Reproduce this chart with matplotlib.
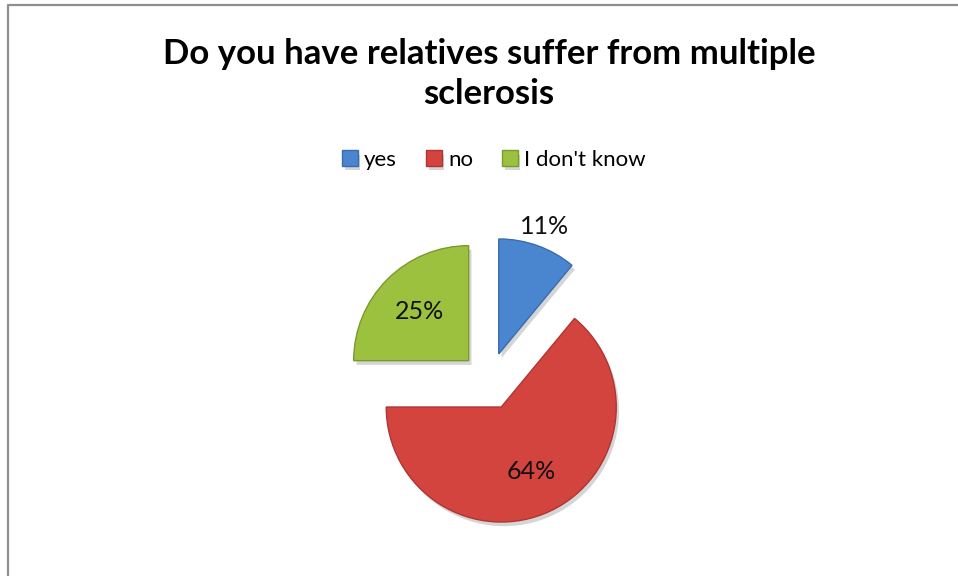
import numpy as np
import matplotlib.pyplot as plt
import matplotlib.patheffects as pe
from matplotlib.lines import Line2D

labels = ['yes', 'no', "I don't know"]
shares = [11, 64, 25]
colors = ['#4a86d0', '#d4443f', '#9cc13f']
edge_colors = ['#3a6cab', '#ad3532', '#7a9a2e']
pct_dist = [1.18, 0.62, 0.61]

W, H = 958, 576
fig = plt.figure(figsize=(W / 100, H / 100), dpi=100)

# frame line on the left and top
fig.add_artist(Line2D([8 / W, 8 / W, 1], [0, 1 - 5 / H, 1 - 5 / H],
                      transform=fig.transFigure, color='#8e8e8e', lw=1.6))

fig.text(489 / W, 1 - 74 / H, 'Do you have relatives suffer from multiple\nsclerosis',
         ha='center', va='center', fontsize=25, fontweight='bold',
         family='Lato', linespacing=1.32)

# pie axes: radius 1 = 115 px, centred at (489, 381)
r_px = 115
half = 200
ax = fig.add_axes([(489 - half) / W, (H - 381 - half) / H, 2 * half / W, 2 * half / H])
wedges, _ = ax.pie(shares, colors=colors, startangle=90, counterclock=False,
                   explode=[0.25] * 3,
                   wedgeprops=dict(linewidth=1.0))
for w, ec in zip(wedges, edge_colors):
    w.set_edgecolor(ec)
    w.set_path_effects([pe.SimplePatchShadow(offset=(2, -3), shadow_rgbFace='#888888', alpha=0.35),
                        pe.Normal()])

for w, share, d in zip(wedges, shares, pct_dist):
    mid = np.deg2rad((w.theta1 + w.theta2) / 2)
    cx, cy = w.center
    ax.text(cx + d * np.cos(mid), cy + d * np.sin(mid), f'{share}%',
            ha='center', va='center', fontsize=18, family='Lato', color='#111111')

lim = half / r_px
ax.set_xlim(-lim, lim)
ax.set_ylim(-lim, lim)
ax.set_aspect('equal')
ax.axis('off')

fig.legend(wedges, labels, loc='center', bbox_to_anchor=(494 / W, 1 - 160 / H),
           ncol=3, frameon=False, handlelength=0.7, handleheight=0.7,
           handletextpad=0.3, columnspacing=1.3, prop=dict(family='Lato', size=16))

fig.savefig('out.png', dpi=100, facecolor='white')
